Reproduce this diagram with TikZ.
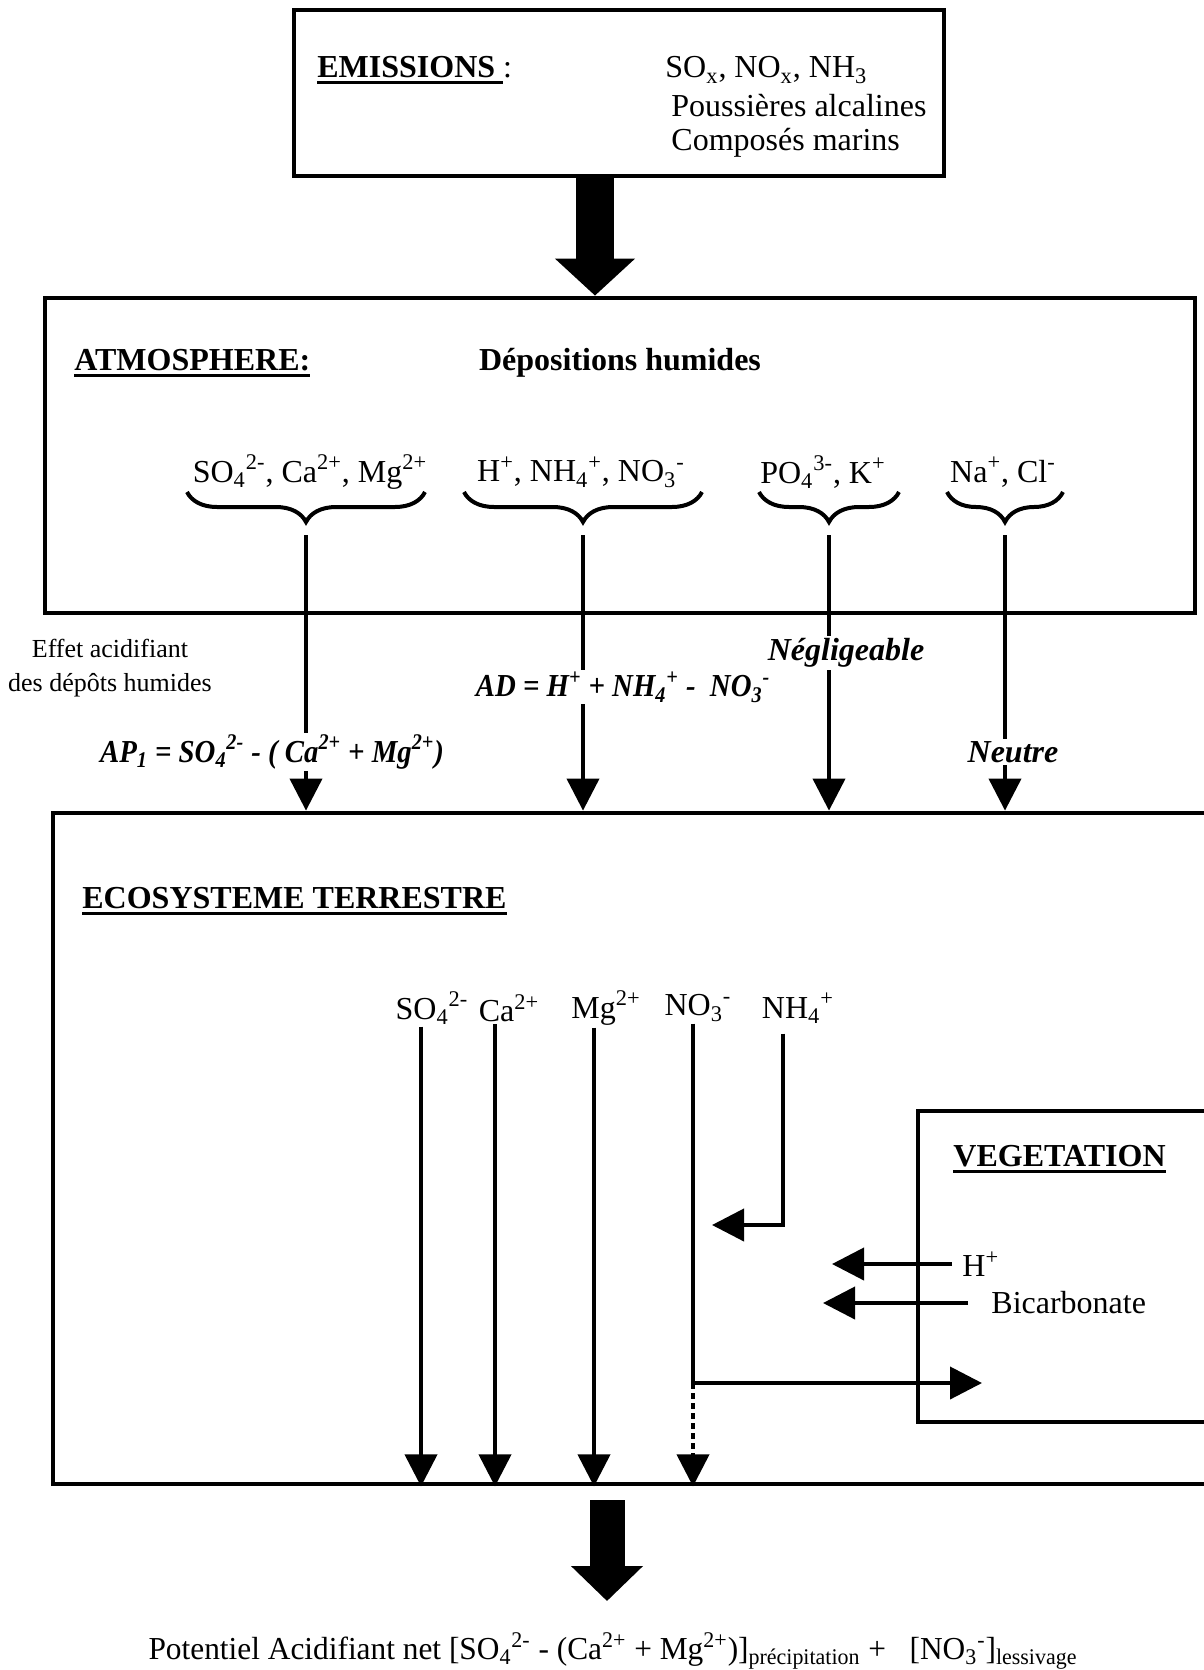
\documentclass[tikz,border=0pt]{standalone}
\usepackage{fontspec}
\usepackage{graphicx}
\setmainfont{Liberation Serif}
\usetikzlibrary{arrows.meta,positioning,decorations.pathreplacing,calc}
\newcommand\subx[1]{\textsubscript{#1}}
\newcommand\supx[1]{\textsuperscript{#1}}
\newcommand\ulbf[1]{\setbox0=\hbox{\bfseries #1}\rlap{\rule[-3.5pt]{\wd0}{1.4pt}}\box0}

\begin{document}
\begin{tikzpicture}[x=0.5pt, y=-0.5pt,
  box/.style={draw, line width=2.4pt, inner sep=0pt},
  txt/.style={font=\fontsize{16}{19}\selectfont, inner sep=1pt},
  small/.style={font=\fontsize{13}{17}\selectfont, align=center, inner sep=1pt},
  lbl/.style={font=\fontsize{16}{19}\selectfont\bfseries\itshape, fill=white, inner sep=1pt},
  arr/.style={-{Triangle[length=16pt,width=16pt]}, line width=2pt},
  fat/.style={-{Triangle[length=18.5pt,width=39pt]}, line width=19pt},
  brc/.style={decorate, decoration={brace, mirror, amplitude=15pt}, line width=2pt}]

\useasboundingbox (0,0) rectangle (1204,1670);
\clip (0,0) rectangle (1204,1670);

% boxes
\node[box, minimum width=325pt, minimum height=83pt] (emis) at (619,93) {};
\node[box, minimum width=575pt, minimum height=157.5pt] (atmo) at (620,455.5) {};
\node[box, minimum width=588.5pt, minimum height=335.5pt] (eco) at (641.5,1148.5) {};
\node[box, minimum width=156pt, minimum height=155.5pt] (veg) at (1074,1266.5) {};

% emissions
\node[txt, anchor=west] (emlbl) at (315,70) {\ulbf{EMISSIONS\ }:};
\node[txt, anchor=west] (gas) at (663,70) {SO\subx{x}, NO\subx{x}, NH\subx{3}};
\node[txt, below=18pt of gas.west, anchor=west, xshift=3pt] (dust) {Poussières alcalines};
\node[txt, below=18.5pt of dust.west, anchor=west] (salt) {Composés marins};
\draw[fat] ([xshift=-12pt]emis.south) -- ([xshift=-12pt]emis.south |- atmo.north);

% atmosphere
\node[txt, anchor=west] (atlbl) at (72,363) {\ulbf{ATMOSPHERE:}};
\node[txt] (wet) at (620,363) {\textbf{Dépositions humides}};
\node[txt] (g1) at (310,472) {SO\subx{4}\supx{2-}, Ca\supx{2+}, Mg\supx{2+}};
\node[txt] (g2) at (581,472) {H\supx{+}, NH\subx{4}\supx{+}, NO\subx{3}\supx{-}};
\node[txt] (g3) at (823,472) {PO\subx{4}\supx{3-}, K\supx{+}};
\node[txt] (g4) at (1003,472) {Na\supx{+}, Cl\supx{-}};
\draw[brc] (187,492) -- (425,492);
\draw[brc] (464,492) -- (702,492);
\draw[brc] (759,492) -- (899,492);
\draw[brc] (947,492) -- (1063,492);
\coordinate (d1) at (306,535);
\coordinate (d2) at (583,535);
\coordinate (d3) at (829,535);
\coordinate (d4) at (1005,535);
\foreach \d in {d1,d2,d3,d4}
  \draw[arr] (\d) -- (\d |- eco.north);

% wet deposition labels
\node[small] (effet) at (110,668) {Effet acidifiant\\des dépôts humides};
\node[lbl] (ap) at (272,752) {\scalebox{0.9}[1]{AP\subx{1} = SO\subx{4}\supx{2-} - ( Ca\supx{2+} + Mg\supx{2+})}};
\node[lbl] (ad) at (623,687) {\scalebox{0.9}[1]{AD = H\supx{+} + NH\subx{4}\supx{+} -~~NO\subx{3}\supx{-}}};
\node[lbl] (negl) at (846,653) {Négligeable};
\node[lbl] (neut) at (1013,752) {Neutre};

% ecosystem
\node[txt, anchor=west] (ecolbl) at (80,901) {\ulbf{ECOSYSTEME TERRESTRE}};
\node[txt] (so4) at (432,1008) {SO\subx{4}\supx{2-}};
\node[txt] (ca) at (509,1008) {Ca\supx{2+}};
\node[txt] (mg) at (606,1008) {Mg\supx{2+}};
\node[txt] (no3) at (698,1008) {NO\subx{3}\supx{-}};
\node[txt] (nh4) at (798,1008) {NH\subx{4}\supx{+}};
\draw[arr] ([xshift=-5.5pt]so4.south) -- ([xshift=-5.5pt]so4.south |- eco.south);
\draw[arr] ([xshift=-7pt]ca.south) -- ([xshift=-7pt]ca.south |- eco.south);
\draw[arr] ([xshift=-6pt]mg.south) -- ([xshift=-6pt]mg.south |- eco.south);
\coordinate (nh4end) at (712,1225);
\coordinate (uptake) at (982,1383);
\coordinate (no3bend) at (693,1383);
\draw[arr] ([xshift=-7.5pt,yshift=-4pt]nh4.south) |- (nh4end);
\draw[arr] ([xshift=-2.5pt]no3.south) |- (uptake);
\draw[arr, dash pattern=on 3pt off 2pt] (no3bend) -- (no3bend |- eco.south);

% vegetation
\node[txt, anchor=west] (veglbl) at (951,1159) {\ulbf{VEGETATION}};
\node[txt, anchor=west] (hplus) at (960,1264) {H\supx{+}};
\node[txt, anchor=west] (bicarb) at (989,1303) {Bicarbonate};
\coordinate (hpend) at (832,1264);
\coordinate (bicend) at (823,1303);
\draw[arr] ([xshift=-4pt]hplus.west) -- (hpend);
\draw[arr] ([xshift=-10.5pt]bicarb.west) -- (bicend);

% net result
\node[txt] (net) at (613,1651) {\scalebox{0.98}[1]{Potentiel Acidifiant net [SO\subx{4}\supx{2-} - (Ca\supx{2+} + Mg\supx{2+})]\subx{précipitation} +~~~[NO\subx{3}\supx{-}]\subx{lessivage}}};
\coordinate (sink) at (607,1601);
\draw[fat, line width=17.5pt, -{Triangle[length=17.5pt,width=35pt]}] ($(eco.south)+(-34.5,14)$) -- (sink);
\end{tikzpicture}
\end{document}
